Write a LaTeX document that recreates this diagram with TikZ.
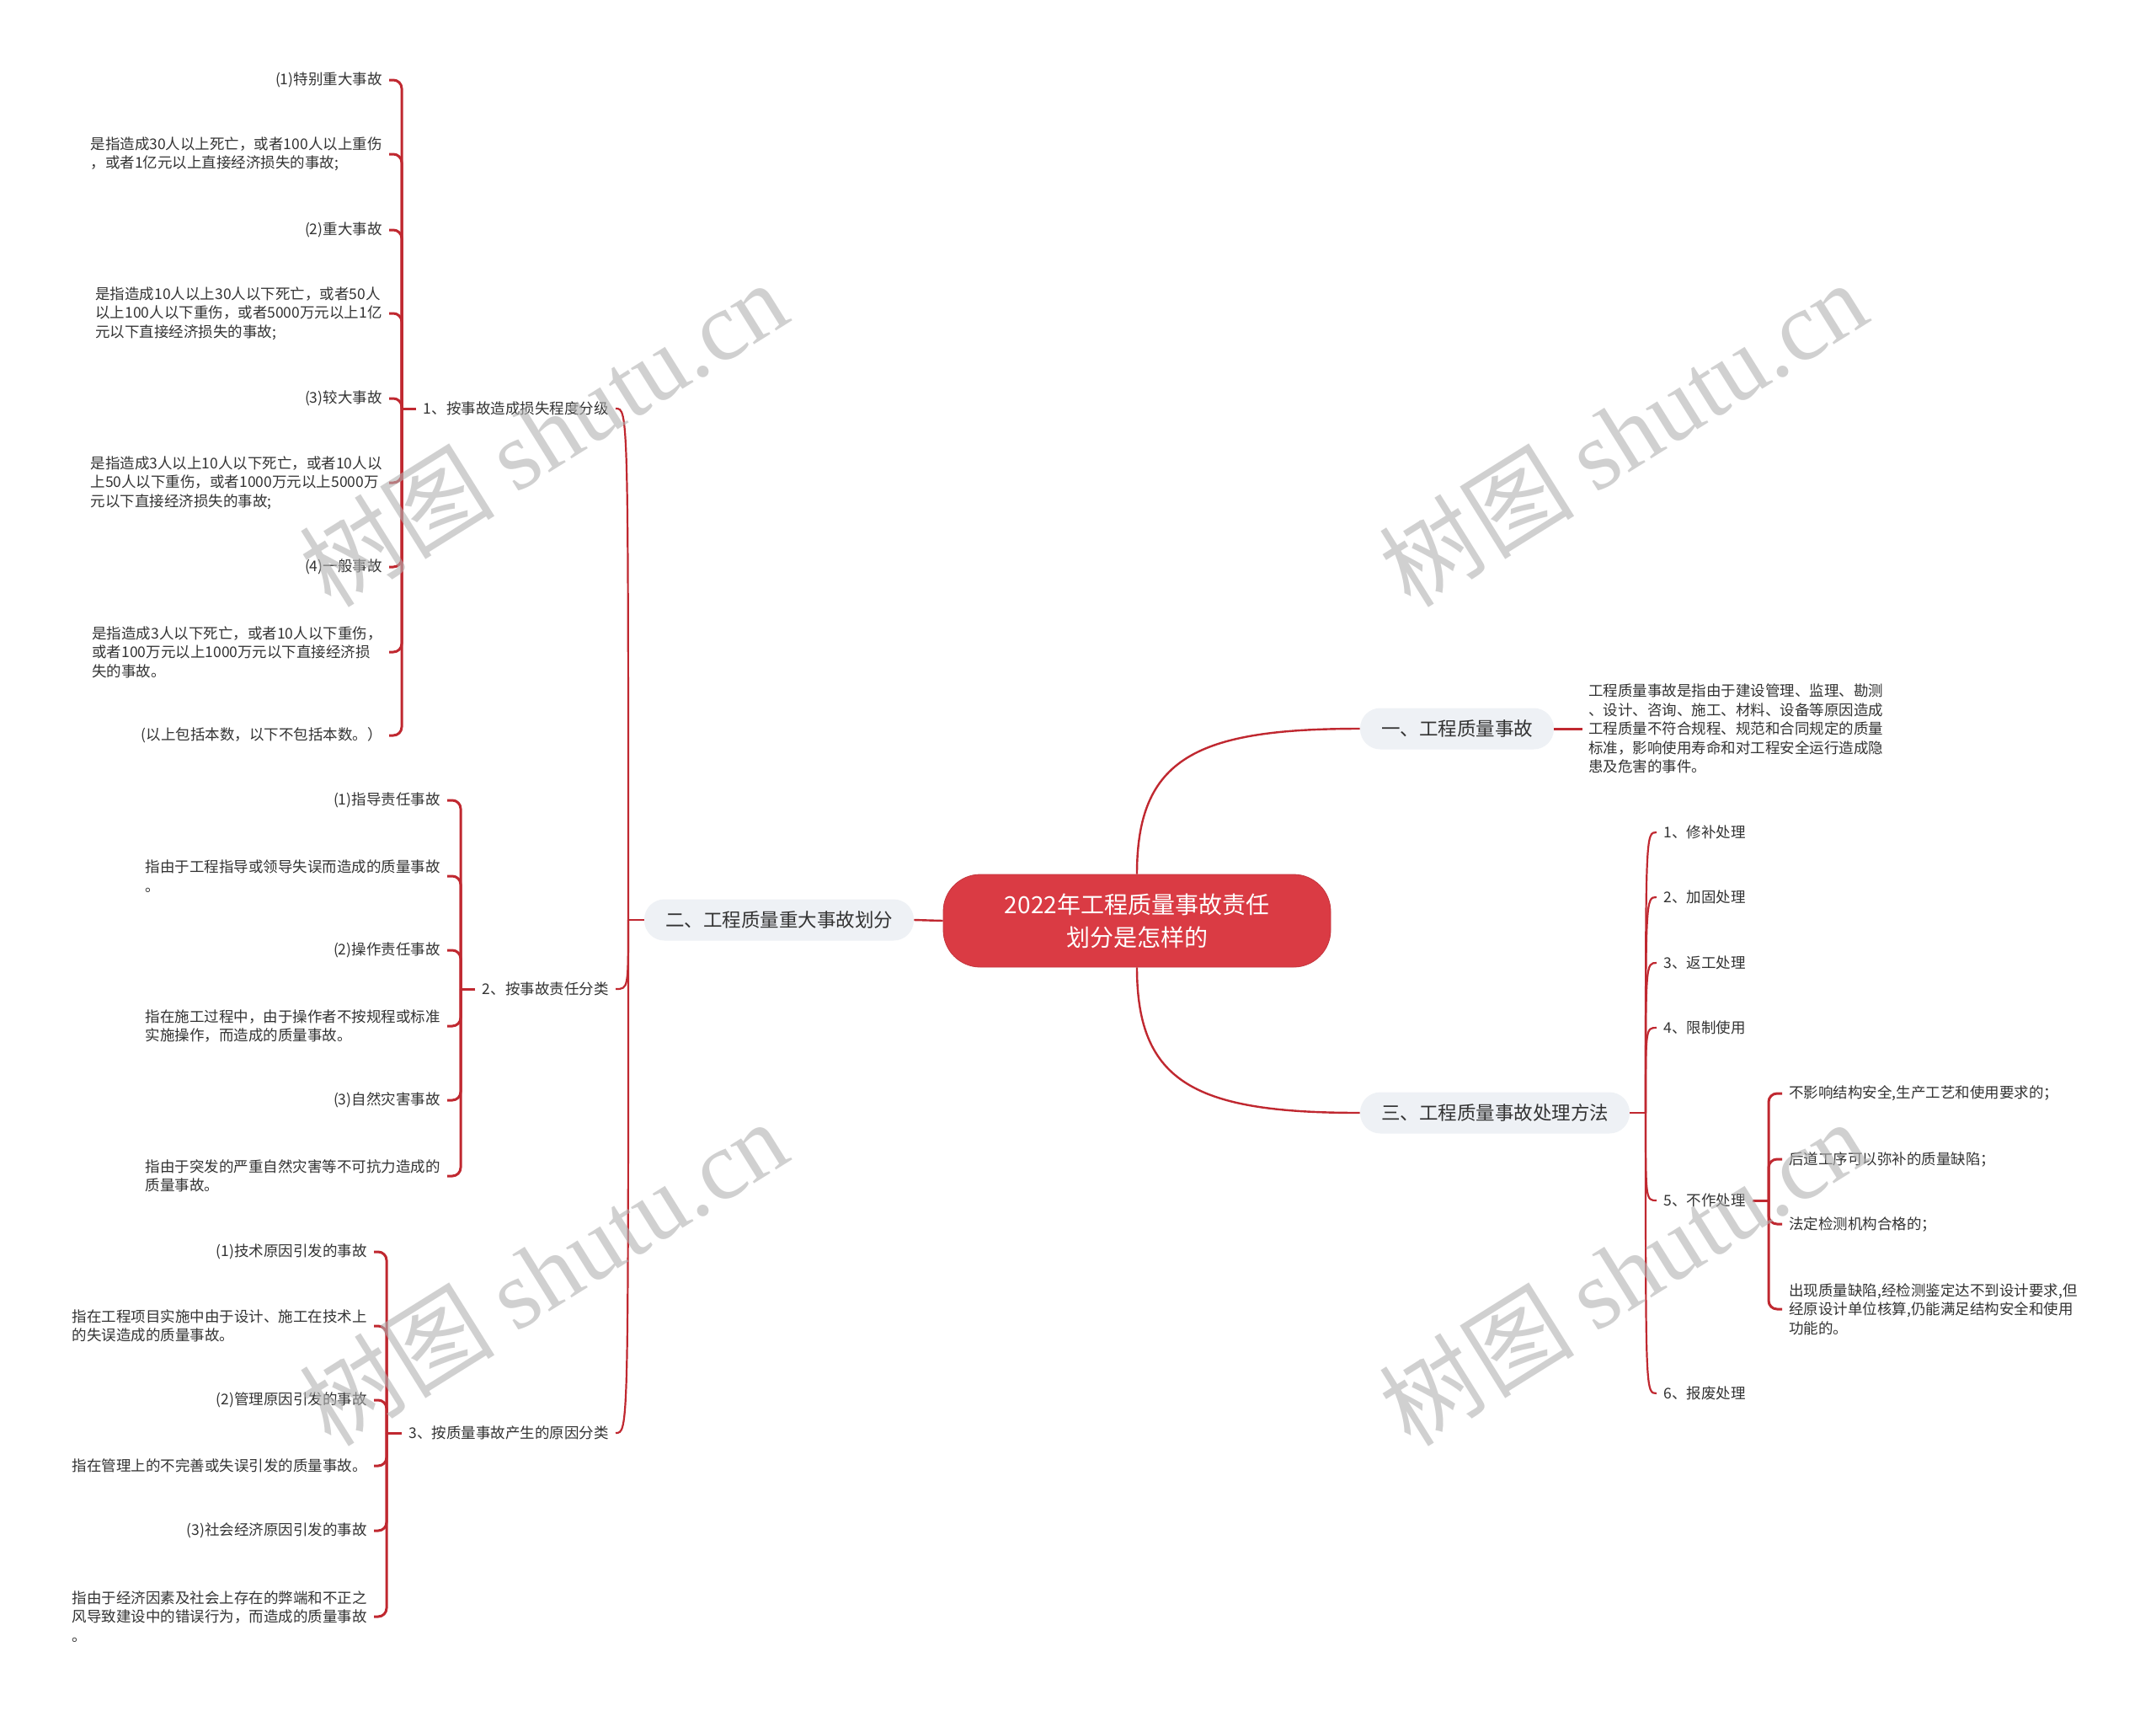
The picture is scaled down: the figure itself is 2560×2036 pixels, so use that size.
\documentclass[tikz,border=0pt]{standalone}
\usepackage{fontspec}
\setmainfont{Noto Sans CJK SC}
\newfontfamily\wmlatin{Liberation Serif}
\usetikzlibrary{calc}
\definecolor{linered}{RGB}{192,40,48}
\definecolor{rootred}{RGB}{218,59,68}
\definecolor{pillgray}{RGB}{238,241,245}
\definecolor{txt}{RGB}{51,51,51}
\tikzset{
  root/.style={rectangle, rounded corners=22pt, fill=rootred, draw=rootred!90!black, line width=0.4pt,
    text=white, font=\fontsize{14pt}{19.5pt}\selectfont, align=center,
    minimum width=230pt, minimum height=55pt},
  pill/.style={rectangle, rounded corners=12pt, fill=pillgray, text=txt,
    font=\fontsize{11.25pt}{14pt}\selectfont, inner xsep=12.5pt, inner ysep=0pt, minimum height=24.5pt},
  lbl/.style={text=txt, font=\fontsize{8.75pt}{11.25pt}\selectfont, inner xsep=4pt, inner ysep=1pt, align=left},
  lone/.style={draw=linered, line width=1.2pt},
  ltwo/.style={draw=linered, line width=1.1pt},
  brk/.style={draw=linered, line width=1.5pt, rounded corners=5pt},
  wmark/.style={rotate=32, text=black!30, text opacity=0.6, font=\fontsize{58pt}{60pt}\selectfont}
}
\begin{document}
\begin{tikzpicture}[x=0.5pt,y=-0.5pt]
\fill[white] (0,0) rectangle (2560,2036);
\useasboundingbox (0,0) rectangle (2560,2036);

% root and main branches
\node[root] (c) at (1350,1093) {2022年工程质量事故责任\\划分是怎样的};
\node[pill] (n1) at (1730,865) {一、工程质量事故};
\node[pill] (n2) at (925,1092) {二、工程质量重大事故划分};
\node[pill] (n3) at (1775,1321) {三、工程质量事故处理方法};

\draw[lone] (c.north) .. controls (1350,900) and (1420,865) .. (n1.west);
\draw[lone] (c.south) .. controls (1350,1286) and (1420,1321) .. (n3.west);
\draw[lone] (c.west) -- (n2.east);

% branch one
\node[lbl, anchor=west, inner xsep=3.5pt] (d1) at (1879,865) {工程质量事故是指由于建设管理、监理、勘测\\、设计、咨询、施工、材料、设备等原因造成\\工程质量不符合规程、规范和合同规定的质量\\标准，影响使用寿命和对工程安全运行造成隐\\患及危害的事件。};
\draw[brk] (n1.east) -- (d1.west);

% branch two: level 2
\coordinate (j2) at (746,1092);
\node[lbl, anchor=east] (g1) at (731,485) {1、按事故造成损失程度分级};
\node[lbl, anchor=east] (g2) at (731,1174) {2、按事故责任分类};
\node[lbl, anchor=east] (g3) at (731,1701) {3、按质量事故产生的原因分类};
\draw[ltwo] (n2.west) -- (j2);
\draw[ltwo] (j2) .. controls (j2 |- g1.east) .. (g1.east);
\draw[ltwo] (j2) .. controls (j2 |- g2.east) .. (g2.east);
\draw[ltwo] (j2) .. controls (j2 |- g3.east) .. (g3.east);

% group 1
\coordinate (k1) at (477,485);
\node[lbl, anchor=east] (a1) at (462,95) {(1)特别重大事故};
\node[lbl, anchor=east] (a2) at (462,183) {是指造成30人以上死亡，或者100人以上重伤\\，或者1亿元以上直接经济损失的事故;};
\node[lbl, anchor=east] (a3) at (462,273) {(2)重大事故};
\node[lbl, anchor=east] (a4) at (462,372) {是指造成10人以上30人以下死亡，或者50人\\以上100人以下重伤，或者5000万元以上1亿\\元以下直接经济损失的事故;};
\node[lbl, anchor=east] (a5) at (462,473) {(3)较大事故};
\node[lbl, anchor=east] (a6) at (462,573) {是指造成3人以上10人以下死亡，或者10人以\\上50人以下重伤，或者1000万元以上5000万\\元以下直接经济损失的事故;};
\node[lbl, anchor=east] (a7) at (462,673) {(4)一般事故};
\node[lbl, anchor=east] (a8) at (462,774) {是指造成3人以下死亡，或者10人以下重伤，\\或者100万元以上1000万元以下直接经济损\\失的事故。};
\node[lbl, anchor=east] (a9) at (462,873) {(以上包括本数，以下不包括本数。）};
\draw[brk] (g1.west) -- (k1);
\foreach \n in {a1,a2,a3,a4,a5,a6,a7,a8,a9} \draw[brk] (k1) |- (\n.east);

% group 2
\coordinate (k2) at (547,1174);
\node[lbl, anchor=east] (b1) at (531,950) {(1)指导责任事故};
\node[lbl, anchor=east] (b2) at (531,1040) {指由于工程指导或领导失误而造成的质量事故\\。};
\node[lbl, anchor=east] (b3) at (531,1128) {(2)操作责任事故};
\node[lbl, anchor=east] (b4) at (531,1218) {指在施工过程中，由于操作者不按规程或标准\\实施操作，而造成的质量事故。};
\node[lbl, anchor=east] (b5) at (531,1306) {(3)自然灾害事故};
\node[lbl, anchor=east] (b6) at (531,1396) {指由于突发的严重自然灾害等不可抗力造成的\\质量事故。};
\draw[brk] (g2.west) -- (k2);
\foreach \n in {b1,b2,b3,b4,b5,b6} \draw[brk] (k2) |- (\n.east);

% group 3
\coordinate (k3) at (459,1701);
\node[lbl, anchor=east] (e1) at (444,1486) {(1)技术原因引发的事故};
\node[lbl, anchor=east] (e2) at (444,1574) {指在工程项目实施中由于设计、施工在技术上\\的失误造成的质量事故。};
\node[lbl, anchor=east] (e3) at (444,1662) {(2)管理原因引发的事故};
\node[lbl, anchor=east] (e4) at (444,1740) {指在管理上的不完善或失误引发的质量事故。};
\node[lbl, anchor=east] (e5) at (444,1817) {(3)社会经济原因引发的事故};
\node[lbl, anchor=east] (e6) at (444,1919) {指由于经济因素及社会上存在的弊端和不正之\\风导致建设中的错误行为，而造成的质量事故\\。};
\draw[brk] (g3.west) -- (k3);
\foreach \n in {e1,e2,e3,e4,e5,e6} \draw[brk] (k3) |- (\n.east);

% branch three
\coordinate (j3) at (1954,1321);
\node[lbl, anchor=west] (r1) at (1967,988) {1、修补处理};
\node[lbl, anchor=west] (r2) at (1967,1065) {2、加固处理};
\node[lbl, anchor=west] (r3) at (1967,1143) {3、返工处理};
\node[lbl, anchor=west] (r4) at (1967,1220) {4、限制使用};
\node[lbl, anchor=west] (r5) at (1967,1425) {5、不作处理};
\node[lbl, anchor=west] (r6) at (1967,1654) {6、报废处理};
\draw[ltwo] (n3.east) -- (j3);
\foreach \n in {r1,r2,r3,r4,r5,r6} \draw[ltwo] (j3) .. controls (j3 |- \n.west) .. (\n.west);

\coordinate (k5) at (2100,1425);
\node[lbl, anchor=west] (s1) at (2116,1298) {不影响结构安全,生产工艺和使用要求的；};
\node[lbl, anchor=west] (s2) at (2116,1376) {后道工序可以弥补的质量缺陷；};
\node[lbl, anchor=west] (s3) at (2116,1453) {法定检测机构合格的；};
\node[lbl, anchor=west] (s4) at (2116,1554) {出现质量缺陷,经检测鉴定达不到设计要求,但\\经原设计单位核算,仍能满足结构安全和使用\\功能的。};
\draw[brk] (r5.east) -- (k5);
\foreach \n in {s1,s2,s3,s4} \draw[brk] (k5) |- (\n.west);

% watermarks
\node[wmark] (w1) at (645,514) {树图 {\wmlatin shutu.cn}};
\node[wmark] (w2) at (1927,514) {树图 {\wmlatin shutu.cn}};
\node[wmark] (w3) at (645,1510) {树图 {\wmlatin shutu.cn}};
\node[wmark] (w4) at (1927,1510) {树图 {\wmlatin shutu.cn}};
\end{tikzpicture}
\end{document}
